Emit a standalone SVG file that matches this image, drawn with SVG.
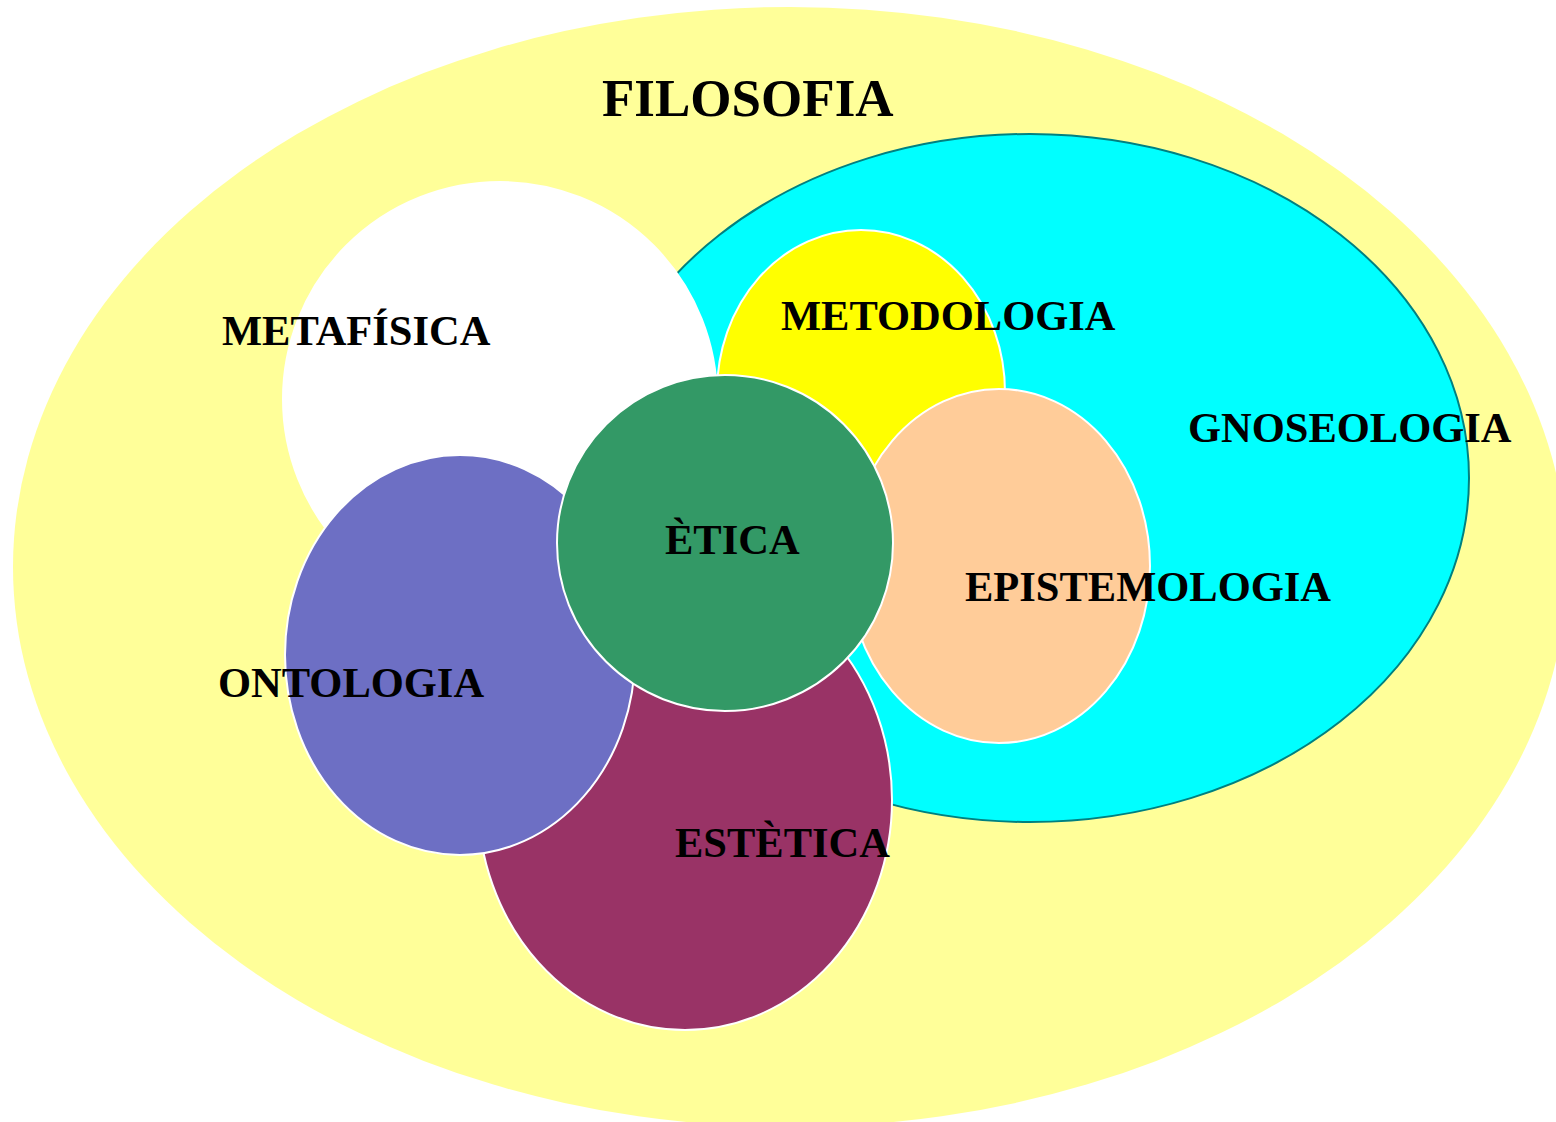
<svg xmlns="http://www.w3.org/2000/svg" width="1556" height="1122" viewBox="0 0 1556 1122">
<style>
.n{stroke:#fff;stroke-width:2}
.t{font-family:"Liberation Serif","Times New Roman",serif;font-weight:bold;font-size:42.5px;fill:#000}
</style>
<rect width="1556" height="1122" fill="#fff"/>
<g id="filosofia"><ellipse cx="790" cy="567" rx="777" ry="560" fill="#FFFF99"/><text class="t" x="602" y="116" style="font-size:53px">FILOSOFIA</text></g>
<g id="gnoseologia"><ellipse cx="1030" cy="478" rx="439" ry="344" fill="#00FFFF" stroke="#008080" stroke-width="2"/></g>
<g id="metafisica"><circle class="n" cx="500" cy="399" r="217" fill="#FFFFFF"/></g>
<g id="metodologia"><ellipse class="n" cx="861" cy="392" rx="144" ry="162" fill="#FFFF00"/></g>
<g id="epistemologia"><ellipse class="n" cx="999" cy="566" rx="151" ry="177" fill="#FFCC99"/></g>
<g id="estetica"><ellipse class="n" cx="685" cy="800" rx="207" ry="230" fill="#993366"/></g>
<g id="ontologia"><ellipse class="n" cx="460" cy="655" rx="175" ry="200" fill="#6D6FC4"/></g>
<g id="etica"><circle class="n" cx="725" cy="543" r="168" fill="#339966"/></g>
<g id="labels">
<text class="t" x="222" y="345">METAFÍSICA</text>
<text class="t" x="781" y="330">METODOLOGIA</text>
<text class="t" x="1188" y="442">GNOSEOLOGIA</text>
<text class="t" x="665" y="554">ÈTICA</text>
<text class="t" x="965" y="601">EPISTEMOLOGIA</text>
<text class="t" x="218" y="697">ONTOLOGIA</text>
<text class="t" x="675" y="857">ESTÈTICA</text>
</g>
<g id="connectors"/>
</svg>
